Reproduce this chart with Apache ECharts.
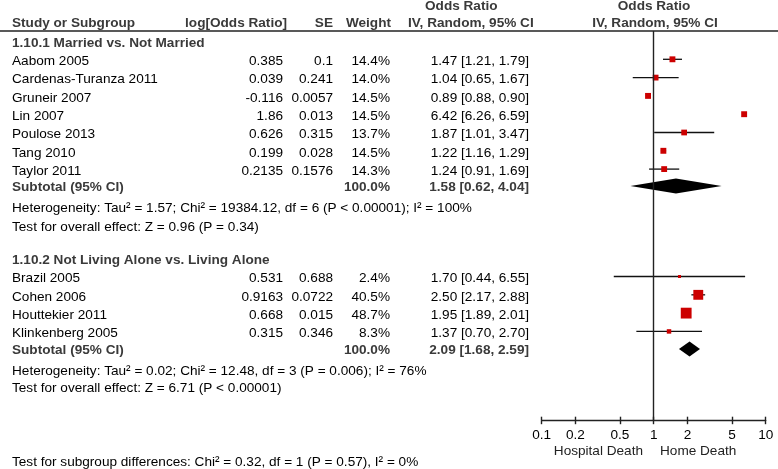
<!DOCTYPE html>
<html><head><meta charset="utf-8">
<script src="https://cdn.jsdelivr.net/npm/echarts@6/dist/echarts.min.js"></script>
<style>html,body{margin:0;padding:0;background:#fff}#c{width:778px;height:469px}</style>
</head><body><div id="c"></div>
<script>
// ---- data ----
const group1Title = '1.10.1 Married vs. Not Married';
const group1Studies = ['Aabom 2005','Cardenas-Turanza 2011','Gruneir 2007','Lin 2007','Poulose 2013','Tang 2010','Taylor 2011'];
const group1LogOR = ['0.385','0.039','-0.116','1.86','0.626','0.199','0.2135'];
const group1SE = ['0.1','0.241','0.0057','0.013','0.315','0.028','0.1576'];
const group1Weight = [14.4,14.0,14.5,14.5,13.7,14.5,14.3];
const group1OR = [1.47,1.04,0.89,6.42,1.87,1.22,1.24];
const group1Lo = [1.21,0.65,0.88,6.26,1.01,1.16,0.91];
const group1Hi = [1.79,1.67,0.90,6.59,3.47,1.29,1.69];
const group1Subtotal = [1.58,0.62,4.04];
const group1Het = 'Heterogeneity: Tau\u00b2 = 1.57; Chi\u00b2 = 19384.12, df = 6 (P < 0.00001); I\u00b2 = 100%';
const group1Test = 'Test for overall effect: Z = 0.96 (P = 0.34)';

const group2Title = '1.10.2 Not Living Alone vs. Living Alone';
const group2Studies = ['Brazil 2005','Cohen 2006','Houttekier 2011','Klinkenberg 2005'];
const group2LogOR = ['0.531','0.9163','0.668','0.315'];
const group2SE = ['0.688','0.0722','0.015','0.346'];
const group2Weight = [2.4,40.5,48.7,8.3];
const group2OR = [1.70,2.50,1.95,1.37];
const group2Lo = [0.44,2.17,1.89,0.70];
const group2Hi = [6.55,2.88,2.01,2.70];
const group2Subtotal = [2.09,1.68,2.59];
const group2Het = 'Heterogeneity: Tau\u00b2 = 0.02; Chi\u00b2 = 12.48, df = 3 (P = 0.006); I\u00b2 = 76%';
const group2Test = 'Test for overall effect: Z = 6.71 (P < 0.00001)';

const subgroupTest = 'Test for subgroup differences: Chi\u00b2 = 0.32, df = 1 (P = 0.57), I\u00b2 = 0%';
const tickValues = [0.1,0.2,0.5,1,2,5,10];
const tickLabels = ['0.1','0.2','0.5','1','2','5','10'];
const favoursLeft = 'Hospital Death';
const favoursRight = 'Home Death';

// ---- layout ----
const ROW0 = 59.3, ROWH = 18.3;          // pixel of row 0 and row pitch
const g1Rows = group1Studies.map((_, i) => i);
const g1SubRow = 6.92;
const g2Start = 11.87;
const g2Rows = group2Studies.map((_, i) => g2Start + i);
const g2SubRow = 15.83;
const GRID_TOP = 31, AXIS_Y = 420.7;
const rowPix = r => ROW0 + r * ROWH;
const FF = '"Liberation Sans", Arial, Helvetica, sans-serif';
const FS = 13.6;
const REG = FS + 'px ' + FF, BOLD = 'bold ' + FS + 'px ' + FF;
const BOLDCOL = '#3a3a3a';

const L = Math.log10;
const fmtCI = (o, lo, hi) => o.toFixed(2) + ' [' + lo.toFixed(2) + ', ' + hi.toFixed(2) + ']';

function txt(text, x, y, align, font, fill) {
  return { type: 'text', silent: true, style: { text, x, y, font: font || REG, fill: fill || '#000',
    align: align || 'left', textAlign: align || 'left', verticalAlign: 'middle', textVerticalAlign: 'middle' } };
}

const graphics = [];
// headers
graphics.push(txt('Odds Ratio', 425, 6.5, 'left', BOLD, BOLDCOL));
graphics.push(txt('Odds Ratio', 654, 6.5, 'center', BOLD, BOLDCOL));
graphics.push(txt('Study or Subgroup', 12, 23.5, 'left', BOLD, BOLDCOL));
graphics.push(txt('log[Odds Ratio]', 287, 23.5, 'right', BOLD, BOLDCOL));
graphics.push(txt('SE', 333, 23.5, 'right', BOLD, BOLDCOL));
graphics.push(txt('Weight', 391, 23.5, 'right', BOLD, BOLDCOL));
graphics.push(txt('IV, Random, 95% CI', 408, 23.5, 'left', BOLD, BOLDCOL));
graphics.push(txt('IV, Random, 95% CI', 655, 23.5, 'center', BOLD, BOLDCOL));
graphics.push({ type: 'line', silent: true, shape: { x1: 0, y1: 31, x2: 778, y2: 31 }, style: { stroke: '#222', lineWidth: 1.4 } });

function addGroup(title, titleY, studies, logor, se, w, or, lo, hi, rows, sub, subRow, het, hetY, test, testY) {
  graphics.push(txt(title, 12, titleY, 'left', BOLD, BOLDCOL));
  studies.forEach((s, i) => {
    const y = rowPix(rows[i]) + 2;
    graphics.push(txt(s, 12, y));
    graphics.push(txt(logor[i], 283, y, 'right'));
    graphics.push(txt(se[i], 333, y, 'right'));
    graphics.push(txt(w[i].toFixed(1) + '%', 390, y, 'right'));
    graphics.push(txt(fmtCI(or[i], lo[i], hi[i]), 529, y, 'right'));
  });
  const sy = rowPix(subRow) + 1.5;
  graphics.push(txt('Subtotal (95% CI)', 12, sy, 'left', BOLD, BOLDCOL));
  graphics.push(txt('100.0%', 390, sy, 'right', BOLD, BOLDCOL));
  graphics.push(txt(fmtCI(sub[0], sub[1], sub[2]), 529, sy, 'right', BOLD, BOLDCOL));
  graphics.push(txt(het, 12, hetY));
  graphics.push(txt(test, 12, testY));
}
addGroup(group1Title, 43.5, group1Studies, group1LogOR, group1SE, group1Weight, group1OR, group1Lo, group1Hi,
  g1Rows, group1Subtotal, g1SubRow, group1Het, 208, group1Test, 227);
addGroup(group2Title, 260, group2Studies, group2LogOR, group2SE, group2Weight, group2OR, group2Lo, group2Hi,
  g2Rows, group2Subtotal, g2SubRow, group2Het, 371.5, group2Test, 388);
graphics.push(txt(subgroupTest, 12, 462));
graphics.push(txt(favoursLeft, 643, 451, 'right', REG, '#222'));
graphics.push(txt(favoursRight, 660, 451, 'left', REG, '#222'));

// ---- series data ----
const studyData = [];
group1OR.forEach((o, i) => studyData.push([L(o), g1Rows[i], L(group1Lo[i]), L(group1Hi[i]), group1Weight[i]]));
group2OR.forEach((o, i) => studyData.push([L(o), g2Rows[i], L(group2Lo[i]), L(group2Hi[i]), group2Weight[i]]));
const diamondData = [
  [L(group1Subtotal[0]), g1SubRow, L(group1Subtotal[1]), L(group1Subtotal[2])],
  [L(group2Subtotal[0]), g2SubRow, L(group2Subtotal[1]), L(group2Subtotal[2])]
];

const chart = echarts.init(document.getElementById('c'), null, { renderer: 'canvas' });
const tickPos = tickValues.map(L);
const xBase = { type: 'value', min: -1, max: 1, gridIndex: 0, position: 'bottom', splitLine: { show: false } };
chart.setOption({
  animation: false,
  grid: { left: 541.7, right: 778 - 765.7, top: GRID_TOP, bottom: 469 - AXIS_Y, containLabel: false },
  xAxis: [
    Object.assign({}, xBase, {
      axisLine: { show: true, onZero: false, lineStyle: { color: '#222', width: 1.4 } },
      axisTick: { show: true, length: 3.5, lineStyle: { color: '#222', width: 1.4 }, customValues: tickPos },
      axisLabel: { show: true, customValues: tickPos, margin: 8, color: '#000', fontSize: FS, fontFamily: FF,
        formatter: v => { let k = 0, b = 1e9; tickPos.forEach((t, i) => { if (Math.abs(t - v) < b) { b = Math.abs(t - v); k = i; } }); return tickLabels[k]; } }
    }),
    Object.assign({}, xBase, {
      offset: 0,
      axisLine: { show: false, onZero: false },
      axisTick: { show: true, inside: true, length: 4, lineStyle: { color: '#222', width: 1.4 }, customValues: tickPos },
      axisLabel: { show: false }
    })
  ],
  yAxis: { type: 'value', inverse: true, show: false,
    min: (GRID_TOP - ROW0) / ROWH, max: (AXIS_Y - ROW0) / ROWH },
  graphic: graphics,
  series: [
    { type: 'custom', xAxisIndex: 0, data: studyData, z: 3,
      markLine: { silent: true, symbol: 'none', label: { show: false },
        lineStyle: { color: '#222', width: 1.4, type: 'solid' }, data: [{ xAxis: 0 }] },
      renderItem: (params, api) => {
        const c = api.coord([api.value(0), api.value(1)]);
        const a = api.coord([api.value(2), api.value(1)]);
        const b = api.coord([api.value(3), api.value(1)]);
        const s = Math.max(3, 1.55 * Math.sqrt(api.value(4)));
        return { type: 'group', children: [
          { type: 'line', shape: { x1: a[0], y1: c[1], x2: b[0], y2: c[1] }, style: { stroke: '#111', lineWidth: 1.3 } },
          { type: 'rect', shape: { x: c[0] - s / 2, y: c[1] - s / 2, width: s, height: s }, style: { fill: '#cc0000' } }
        ] };
      } },
    { type: 'custom', xAxisIndex: 0, data: diamondData, z: 3,
      renderItem: (params, api) => {
        const c = api.coord([api.value(0), api.value(1)]);
        const a = api.coord([api.value(2), api.value(1)]);
        const b = api.coord([api.value(3), api.value(1)]);
        const h = 7.5;
        return { type: 'polygon', shape: { points: [[a[0], c[1]], [c[0], c[1] - h], [b[0], c[1]], [c[0], c[1] + h]] },
          style: { fill: '#000' } };
      } }
  ]
});
</script></body></html>
